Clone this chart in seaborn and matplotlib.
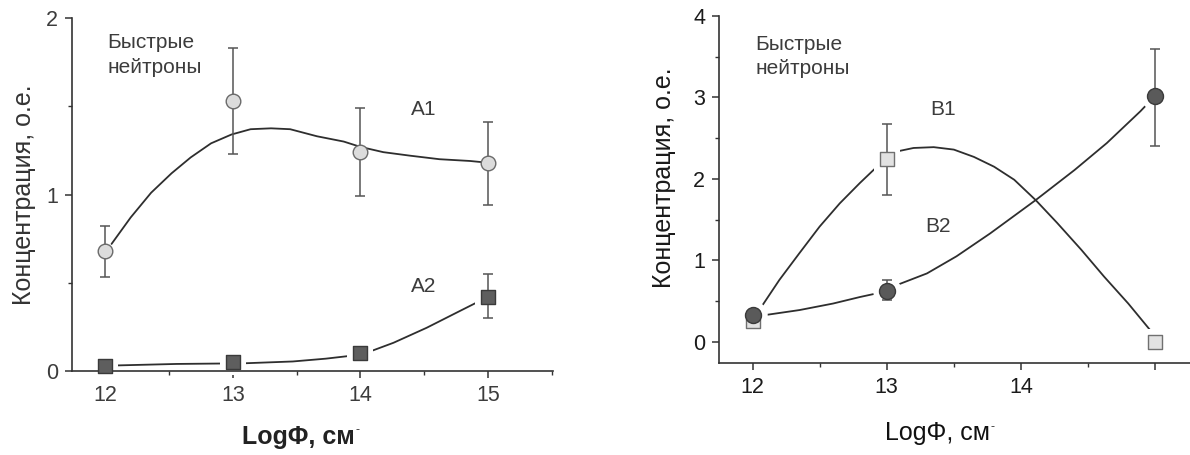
import numpy as np
import pandas as pd
import seaborn as sns
from matplotlib import pyplot as plt
from matplotlib.ticker import MultipleLocator

# --- левая панель: точки измерений ---
x_a = [12, 13, 14, 15]
a1_y = [0.68, 1.53, 1.24, 1.18]
a1_lo = [0.535, 1.23, 0.99, 0.94]
a1_hi = [0.82, 1.83, 1.49, 1.41]
a2_y = [0.03, 0.05, 0.10, 0.42]
a2_lo = [0.03, 0.05, 0.10, 0.30]
a2_hi = [0.03, 0.05, 0.10, 0.55]

# сглаживающие кривые
a1_cx = [12.05, 12.20, 12.36, 12.52, 12.67, 12.83, 12.99, 13.14, 13.30, 13.45, 13.66, 13.87,
         14.0, 14.18, 14.39, 14.62, 14.86, 15.0]
a1_cy = [0.72, 0.87, 1.01, 1.12, 1.21, 1.29, 1.34, 1.37, 1.375, 1.37, 1.33, 1.30,
         1.27, 1.24, 1.22, 1.20, 1.19, 1.18]
a2_cx = [12.0, 12.56, 12.85, 13.0, 13.10, 13.47, 13.73, 13.91, 14.10, 14.26, 14.52, 14.78, 15.0]
a2_cy = [0.03, 0.04, 0.042, 0.043, 0.044, 0.054, 0.07, 0.085, 0.117, 0.16, 0.245, 0.34, 0.42]

# --- правая панель ---
x_b = [12, 13, 15]
b1_y = [0.25, 2.25, 0.0]
b1_lo = [0.25, 1.80, 0.0]
b1_hi = [0.25, 2.68, 0.0]
b2_y = [0.33, 0.63, 3.02]
b2_lo = [0.33, 0.51, 2.41]
b2_hi = [0.33, 0.76, 3.60]

b1_cx = [12.05, 12.20, 12.35, 12.50, 12.65, 12.80, 12.94, 13.0, 13.07, 13.20, 13.35, 13.50, 13.65,
         13.80, 13.95, 14.11, 14.27, 14.45, 14.62, 14.80, 14.96, 15.0]
b1_cy = [0.39, 0.76, 1.09, 1.415, 1.70, 1.95, 2.17, 2.25, 2.335, 2.38, 2.39, 2.36, 2.27,
         2.15, 1.99, 1.74, 1.46, 1.13, 0.80, 0.47, 0.15, 0.0]
b2_cx = [12.0, 12.10, 12.35, 12.60, 12.80, 12.94, 13.0, 13.08, 13.30, 13.52, 13.77, 14.11,
         14.40, 14.64, 14.89, 15.0]
b2_cy = [0.33, 0.33, 0.39, 0.47, 0.55, 0.60, 0.63, 0.70, 0.84, 1.05, 1.33, 1.74,
         2.11, 2.44, 2.83, 3.02]

sns.set_style("ticks")
plt.rcParams['font.family'] = ['Liberation Sans', 'DejaVu Sans']

fig = plt.figure(figsize=(11.9, 4.55), dpi=100)
ax1 = fig.add_axes([0.0605, 0.1846, 0.4042, 0.7758])
ax2 = fig.add_axes([0.6042, 0.2022, 0.3958, 0.7626])

line_c = '#2e2e2e'
err_c = '#555555'


def draw_series(ax, xs, ys, lo, hi, cx, cy, marker, face, edge, size, halo=True):
    sns.lineplot(x=cx, y=cy, ax=ax, color=line_c, lw=1.3, sort=False, zorder=1)
    if halo:
        ax.scatter(xs, ys, s=(size + 9) ** 2, marker=marker, color='white', zorder=2, clip_on=False, lw=0)
    for x, y, l, h in zip(xs, ys, lo, hi):
        if h - l > 0:
            ax.errorbar([x], [y], yerr=[[y - l], [h - y]], fmt='none', ecolor=err_c,
                        elinewidth=1.1, capsize=3.5, capthick=1.1, zorder=3)
    df = pd.DataFrame({'x': xs, 'y': ys})
    sns.scatterplot(data=df, x='x', y='y', ax=ax, marker=marker, s=size ** 2, color=face,
                    edgecolor=edge, linewidth=1.0, zorder=4, clip_on=False)


draw_series(ax1, x_a, a1_y, a1_lo, a1_hi, a1_cx, a1_cy, 'o', '#dcdcdc', '#6a6a6a', 10.5, halo=False)
draw_series(ax1, x_a, a2_y, a2_lo, a2_hi, a2_cx, a2_cy, 's', '#5e5e5e', '#3a3a3a', 10)
draw_series(ax2, x_b, b1_y, b1_lo, b1_hi, b1_cx, b1_cy, 's', '#e2e2e2', '#707070', 10)
draw_series(ax2, x_b, b2_y, b2_lo, b2_hi, b2_cx, b2_cy, 'o', '#5a5a5a', '#3a3a3a', 11.5)

ax1.set_xlim(11.74, 15.51)
ax1.set_ylim(0, 2)
ax2.set_xlim(11.75, 15.26)
ax2.set_ylim(-0.26, 4)

for ax, tc in [(ax1, '#3c3c3c'), (ax2, '#1a1a1a')]:
    sns.despine(ax=ax)
    for s in ['left', 'bottom']:
        ax.spines[s].set_color('#333333')
        ax.spines[s].set_linewidth(1.2)
    ax.set_xlabel('')
    ax.set_ylabel('')
    ax.xaxis.set_major_locator(MultipleLocator(1))
    ax.xaxis.set_minor_locator(MultipleLocator(0.5))
    ax.yaxis.set_minor_locator(MultipleLocator(0.5))
    ax.tick_params(which='major', direction='out', length=5, width=1.1, color='#333333',
                   labelsize=15.5, labelcolor=tc, pad=5)
    ax.tick_params(which='minor', direction='out', length=3, width=1.0, color='#333333')

ax1.set_yticks([0, 1, 2])
ax1.set_xticks([12, 13, 14, 15])
ax2.set_yticks([0, 1, 2, 3, 4])
ax2.set_xticks([12, 13, 14, 15])
ax2.set_xticklabels(['12', '13', '14', ''])

# подписи осей
ax1.text(-0.1, 0.50, 'Концентрация, о.е.', transform=ax1.transAxes, rotation=90,
         ha='center', va='center', fontsize=18, color='#333333')
ax2.text(-0.117, 0.533, 'Концентрация, о.е.', transform=ax2.transAxes, rotation=90,
         ha='center', va='center', fontsize=18, color='#1a1a1a')
xl1 = ax1.text(0.47, -0.187, 'LogΦ, см', transform=ax1.transAxes, ha='center', va='center',
               fontsize=18, fontweight='bold', color='#222222')
xl2 = ax2.text(0.463, -0.202, 'LogΦ, см', transform=ax2.transAxes, ha='center', va='center',
               fontsize=18, color='#111111')
# маленький верхний индекс "-" после "см"
for xl in (xl1, xl2):
    ax1.annotate('-', xy=(1.0, 1.0), xycoords=xl, xytext=(1, -4), textcoords='offset points',
                 ha='left', va='center', fontsize=9, color='#333333')

# надписи на графиках
ax1.text(12.02, 1.79, 'Быстрые\nнейтроны', ha='left', va='center', fontsize=15,
         color='#3c3c3c', linespacing=1.35)
ax1.text(14.5, 1.48, 'A1', ha='center', va='center', fontsize=15, color='#3c3c3c')
ax1.text(14.5, 0.48, 'A2', ha='center', va='center', fontsize=15, color='#3c3c3c')

ax2.text(12.02, 3.50, 'Быстрые\nнейтроны', ha='left', va='center', fontsize=15,
         color='#3c3c3c', linespacing=1.35)
ax2.text(13.42, 2.85, 'B1', ha='center', va='center', fontsize=15, color='#3c3c3c')
ax2.text(13.38, 1.42, 'B2', ha='center', va='center', fontsize=15, color='#3c3c3c')

fig.savefig('out.png', dpi=100)
